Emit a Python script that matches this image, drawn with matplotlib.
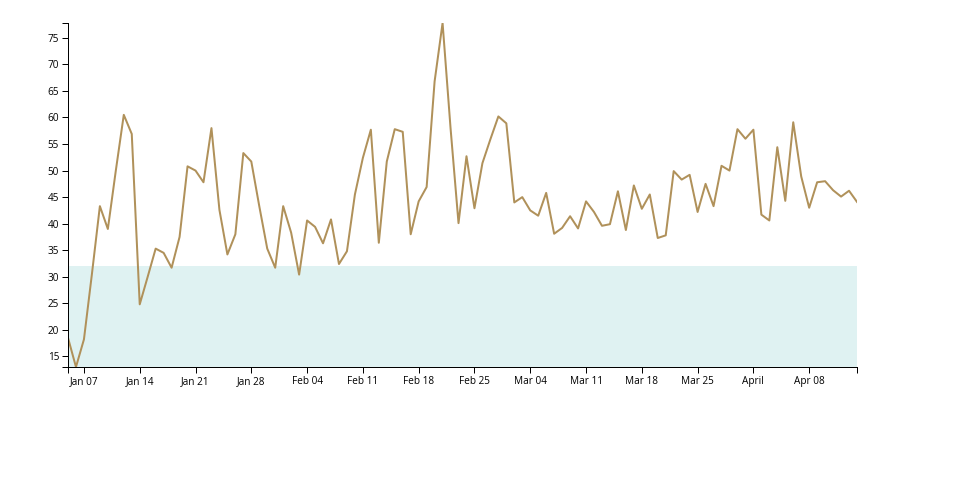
# %% Imports
import matplotlib

matplotlib.use("Agg")
import matplotlib.dates as mdates
import matplotlib.pyplot as plt
from matplotlib.ticker import FixedLocator, FuncFormatter
from pandas import date_range

# %% Data (one value per day)
start_date = "2018-01-05"
values = [
    18.5, 13.0, 18.2, 30.5, 43.3, 39.0, 50.0, 60.5, 56.9, 24.8,
    30.0, 35.3, 34.5, 31.7, 37.5, 50.8, 50.0, 47.8, 58.0, 42.6,
    34.2, 38.0, 53.3, 51.7, 43.3, 35.3, 31.7, 43.3, 38.3, 30.4,
    40.6, 39.4, 36.3, 40.8, 32.4, 34.8, 45.5, 52.4, 57.7, 36.4,
    51.7, 57.8, 57.3, 38.0, 44.2, 46.9, 66.8, 77.8, 58.0, 40.1,
    52.7, 42.9, 51.4, 55.9, 60.2, 58.9, 44.0, 45.0, 42.5, 41.5,
    45.8, 38.1, 39.2, 41.4, 39.1, 44.2, 42.2, 39.6, 39.9, 46.1,
    38.8, 47.2, 42.8, 45.5, 37.3, 37.8, 49.9, 48.3, 49.2, 42.2,
    47.5, 43.3, 50.9, 50.0, 57.8, 56.0, 57.7, 41.7, 40.6, 54.4,
    44.3, 59.1, 48.9, 43.0, 47.8, 48.0, 46.3, 45.1, 46.2, 44.1,
]
dates = date_range(start=start_date, periods=len(values), freq="D")
band_top = 32
y_ticks = [15, 20, 25, 30, 35, 40, 45, 50, 55, 60, 65, 70, 75]
x_ticks = date_range(start="2018-01-07", end="2018-04-14", freq="7D")

# %% Style
LINE_COLOR = "#b0915a"
BAND_COLOR = "#dff2f2"
PX = 72 / 100  # points per pixel at dpi 100

plt.rcParams["font.family"] = ["Open Sans", "DejaVu Sans"]
plt.rcParams["font.size"] = 10 * PX

fig = plt.figure(figsize=(9.6, 5), dpi=100)
ax = fig.add_axes([68 / 960, 133 / 500, (857 - 68) / 960, (367 - 23) / 500])

y_min, y_max = min(values), max(values)
ax.set_xlim(dates[0], dates[-1])
ax.set_ylim(y_min, y_max)

# %% Plot
ax.fill_between(dates, y_min, band_top, color=BAND_COLOR, linewidth=0, zorder=1)
ax.plot(dates, values, color=LINE_COLOR, linewidth=2 * PX, zorder=2)

# %% Axes like a d3 axis
for side in ["top", "right"]:
    ax.spines[side].set_visible(False)
for side in ["left", "bottom"]:
    ax.spines[side].set_linewidth(1 * PX)

ax.yaxis.set_major_locator(FixedLocator(y_ticks))
ax.yaxis.set_minor_locator(FixedLocator([y_min, y_max]))
ax.xaxis.set_major_locator(FixedLocator(mdates.date2num(x_ticks)))
ax.xaxis.set_minor_locator(
    FixedLocator(mdates.date2num([dates[0], dates[-1]]))
)


def fmt_date(x, pos):
    dt = mdates.num2date(x)
    return dt.strftime("%B") if dt.day == 1 else dt.strftime("%b %d")


ax.xaxis.set_major_formatter(FuncFormatter(fmt_date))
ax.tick_params(
    which="both", length=6 * PX, width=1 * PX, pad=3 * PX, colors="black",
    labelsize=10 * PX,
)

fig.savefig("out.png", dpi=100)
